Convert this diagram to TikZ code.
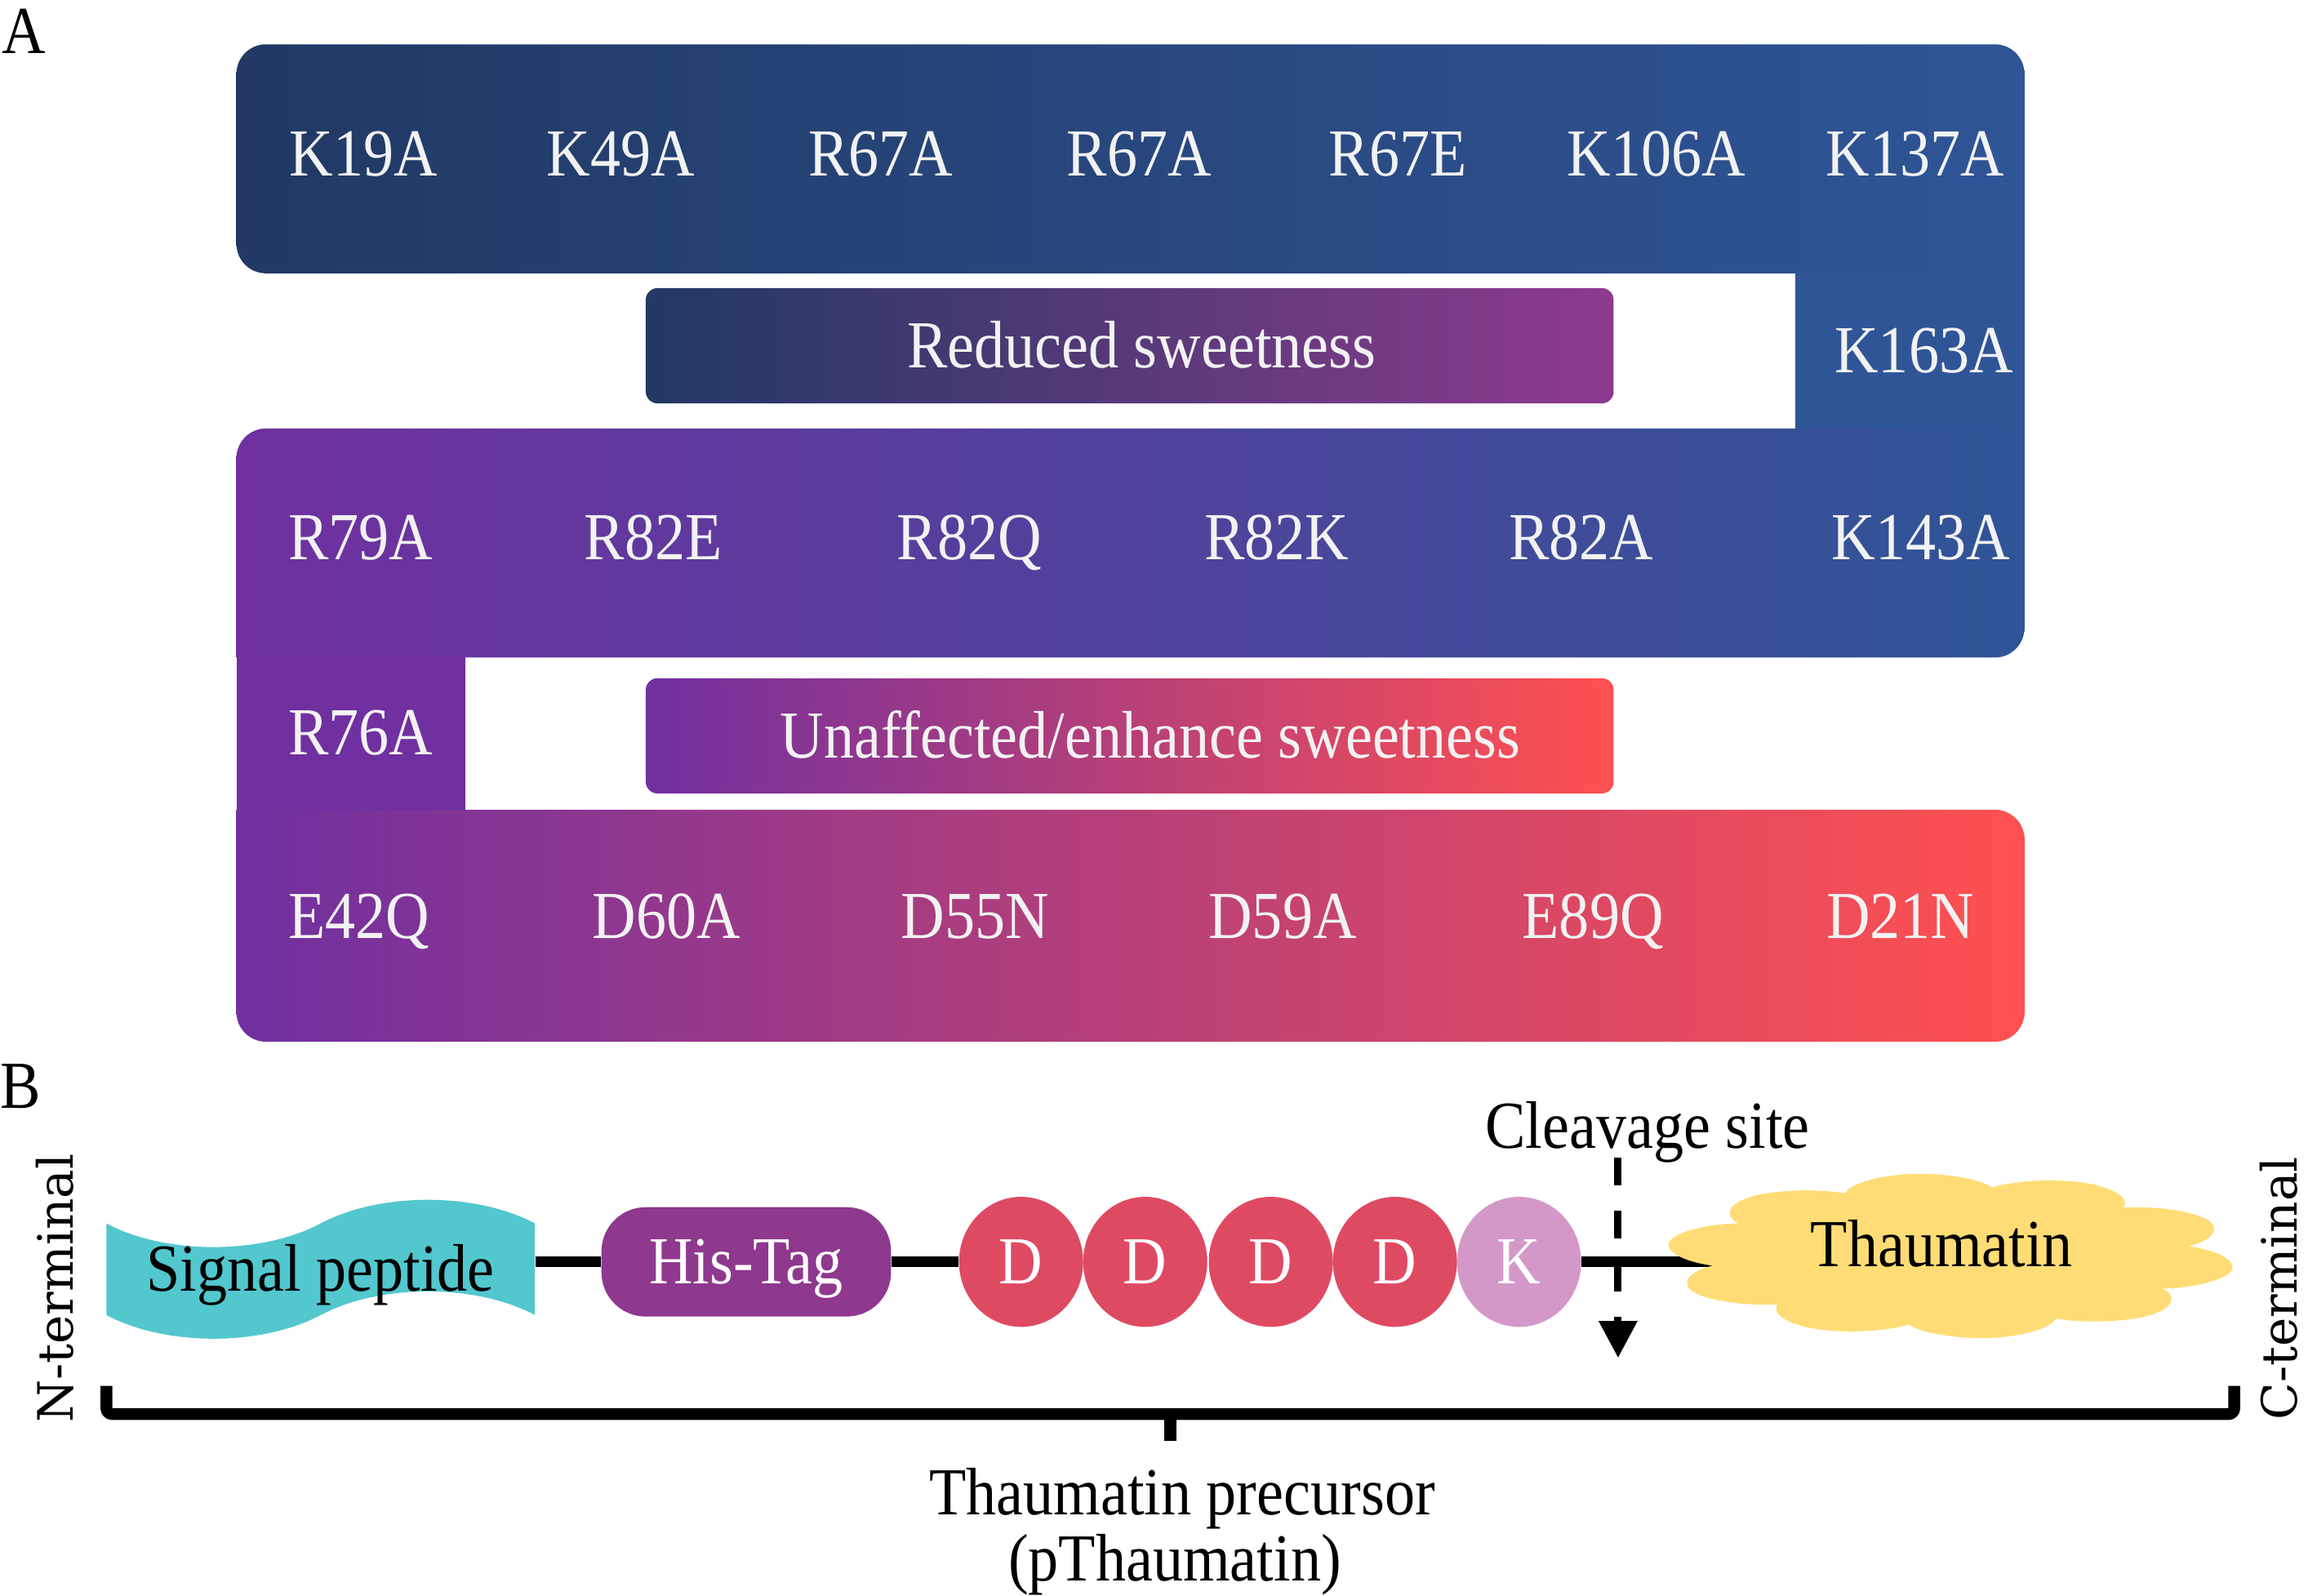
\documentclass[tikz,border=0pt]{standalone}
\usepackage{fontspec}
\setmainfont{Liberation Serif}[FakeStretch=0.9]
\newfontfamily\termfont{DejaVu Serif}
\definecolor{mutnavy}   {RGB}{33,57,100}
\definecolor{mutblue}   {RGB}{47,85,151}
\definecolor{mutpurple} {RGB}{112,48,160}
\definecolor{mutcoral}  {RGB}{255,80,80}
\definecolor{mutplum}   {RGB}{142,58,142}
\definecolor{mutwhite}  {RGB}{242,242,242}
\definecolor{sigcyan}   {RGB}{82,199,206}
\definecolor{tagplum}   {RGB}{142,56,142}
\definecolor{aared}     {RGB}{223,74,99}
\definecolor{aapink}    {RGB}{212,152,200}
\definecolor{thauyellow}{RGB}{255,220,117}
\usetikzlibrary{arrows.meta,positioning,shapes.geometric,shapes.symbols,backgrounds}
\tikzset{
  big/.style={font=\fontsize{45.5}{45}\selectfont,inner sep=0pt,
              text height=30pt,text depth=0pt},
  mut/.style={big,text=mutwhite},
  effbox/.style 2 args={rectangle,rounded corners=8pt,left color=#1,right color=#2,
              minimum width=655pt,minimum height=78pt,big,text=mutwhite},
  sigtape/.style={tape,fill=sigcyan,minimum width=290pt,minimum height=86pt,
              tape bend height=32pt,big},
  histag/.style={rectangle,rounded corners=30pt,fill=tagplum,text=white,
              minimum width=196pt,minimum height=74pt,big},
  aa/.style={ellipse,fill=#1,text=white,minimum width=84pt,minimum height=88pt,big},
  thaucloud/.style={cloud,cloud puffs=10,cloud puff arc=150,aspect=1,
              fill=thauyellow,minimum size=112pt,inner sep=0pt,xscale=3.45,rotate=8},
  term/.style={font=\termfont\fontsize{33}{33}\selectfont,rotate=90,inner sep=0pt},
  link/.style={line width=7pt,black},
  cutarrow/.style={-{Triangle[length=25pt,width=25pt]},line width=5pt,
              dash pattern=on 19pt off 17pt},
  bracket/.style={line width=8pt,rounded corners=4pt},
}
\begin{document}
\begin{tikzpicture}[x=1pt,y=1pt]
  \useasboundingbox (0,0) rectangle (1568,1080);
  % panel A
  \node[big] (pa) at (16,1059) {A};
  \begin{scope}
    \clip[rounded corners=20pt] (160,895) rectangle (1420,1050);
    \clip[rounded corners=20pt] (110,845) rectangle (1370,1050);
    \shade[left color=mutnavy,right color=mutblue] (160,895) rectangle (1370,1050);
  \end{scope}
  \fill[mutblue] (1215,789) rectangle (1370,896);
  \begin{scope}
    \clip[rounded corners=20pt] (160,585) rectangle (1420,790);
    \clip[rounded corners=20pt] (110,635) rectangle (1370,840);
    \shade[left color=mutpurple,right color=mutblue] (160,635) rectangle (1370,790);
  \end{scope}
  \fill[mutpurple] (160,531) rectangle (315,636);
  \begin{scope}
    \clip[rounded corners=20pt] (160,375) rectangle (1370,582);
    \clip[rounded corners=20pt] (110,325) rectangle (1370,532);
    \shade[left color=mutpurple,right color=mutcoral] (160,375) rectangle (1370,532);
  \end{scope}
  \foreach \x/\lab [count=\i] in {246/K19A,420/K49A,596/R67A,771/R67A,
                                 946/R67E,1121/K106A,1296/K137A}
    \node[mut] (top\i) at (\x,976) {\lab};
  \node[mut] (k163a) at (1302,843) {K163A};
  \foreach \x/\lab [count=\i] in {244/R79A,442/R82E,656/R82Q,864/R82K,
                                 1070/R82A,1300/K143A}
    \node[mut] (mid\i) at (\x,716) {\lab};
  \node[mut] (r76a) at (244,584) {R76A};
  \foreach \x/\lab [count=\i] in {243/E42Q,451/D60A,660/D55N,868/D59A,
                                 1078/E89Q,1286/D21N}
    \node[mut] (bot\i) at (\x,460) {\lab};
  \node[effbox={mutnavy}{mutplum}] (reduced) at (764.5,846)
       {\hspace*{16pt}Reduced sweetness};
  \node[effbox={mutpurple}{mutcoral}] (unaffected) at (764.5,582)
       {\hspace*{28pt}Unaffected/enhance sweetness};
  % panel B
  \node[big] (pb) at (14,345) {B};
  \node[term] (nterm) at (37,208) {N-terminal};
  \node[term] (cterm) at (1542,208) {C-terminal};
  \node[sigtape] (sig) at (217,221) {Signal peptide};
  \node[histag] (his) at (505,226) {His-Tag};
  \foreach \x [count=\i] in {691,775,860,944}
    \node[aa=aared] (d\i) at (\x,226) {D};
  \node[aa=aapink] (k) at (1028,226) {K};
  \node[thaucloud] (thau) at (1320,230) {};
  \node[big,text depth=16pt] (thaulab) at ([xshift=-6pt]thau.center) {Thaumatin};
  \begin{scope}[on background layer]
    \draw[link] (sig.east |- his) -- (his);
    \draw[link] (his) -- (d1);
    \draw[link] (k) -- (k -| thau.center);
  \end{scope}
  \node[big] (cleave) at (1115,318) {Cleavage site};
  \coordinate (cut) at (1095,161);
  \draw[cutarrow,shorten <=6pt] (cleave.south -| cut) -- (cut);
  \coordinate (brl) at (72,123);
  \coordinate (brr) at (1512,123);
  \coordinate (brm) at (792,123);
  \draw[bracket] ([yshift=19pt]brl) -- (brl) -- (brr) -- ([yshift=19pt]brr);
  \draw[line width=8pt] (brm) -- ([yshift=-18pt]brm);
  \node[big] (pre) at (800,70) {Thaumatin precursor};
  \node[big] (pthau) at (795,25) {(pThaumatin)};
\end{tikzpicture}
\end{document}
